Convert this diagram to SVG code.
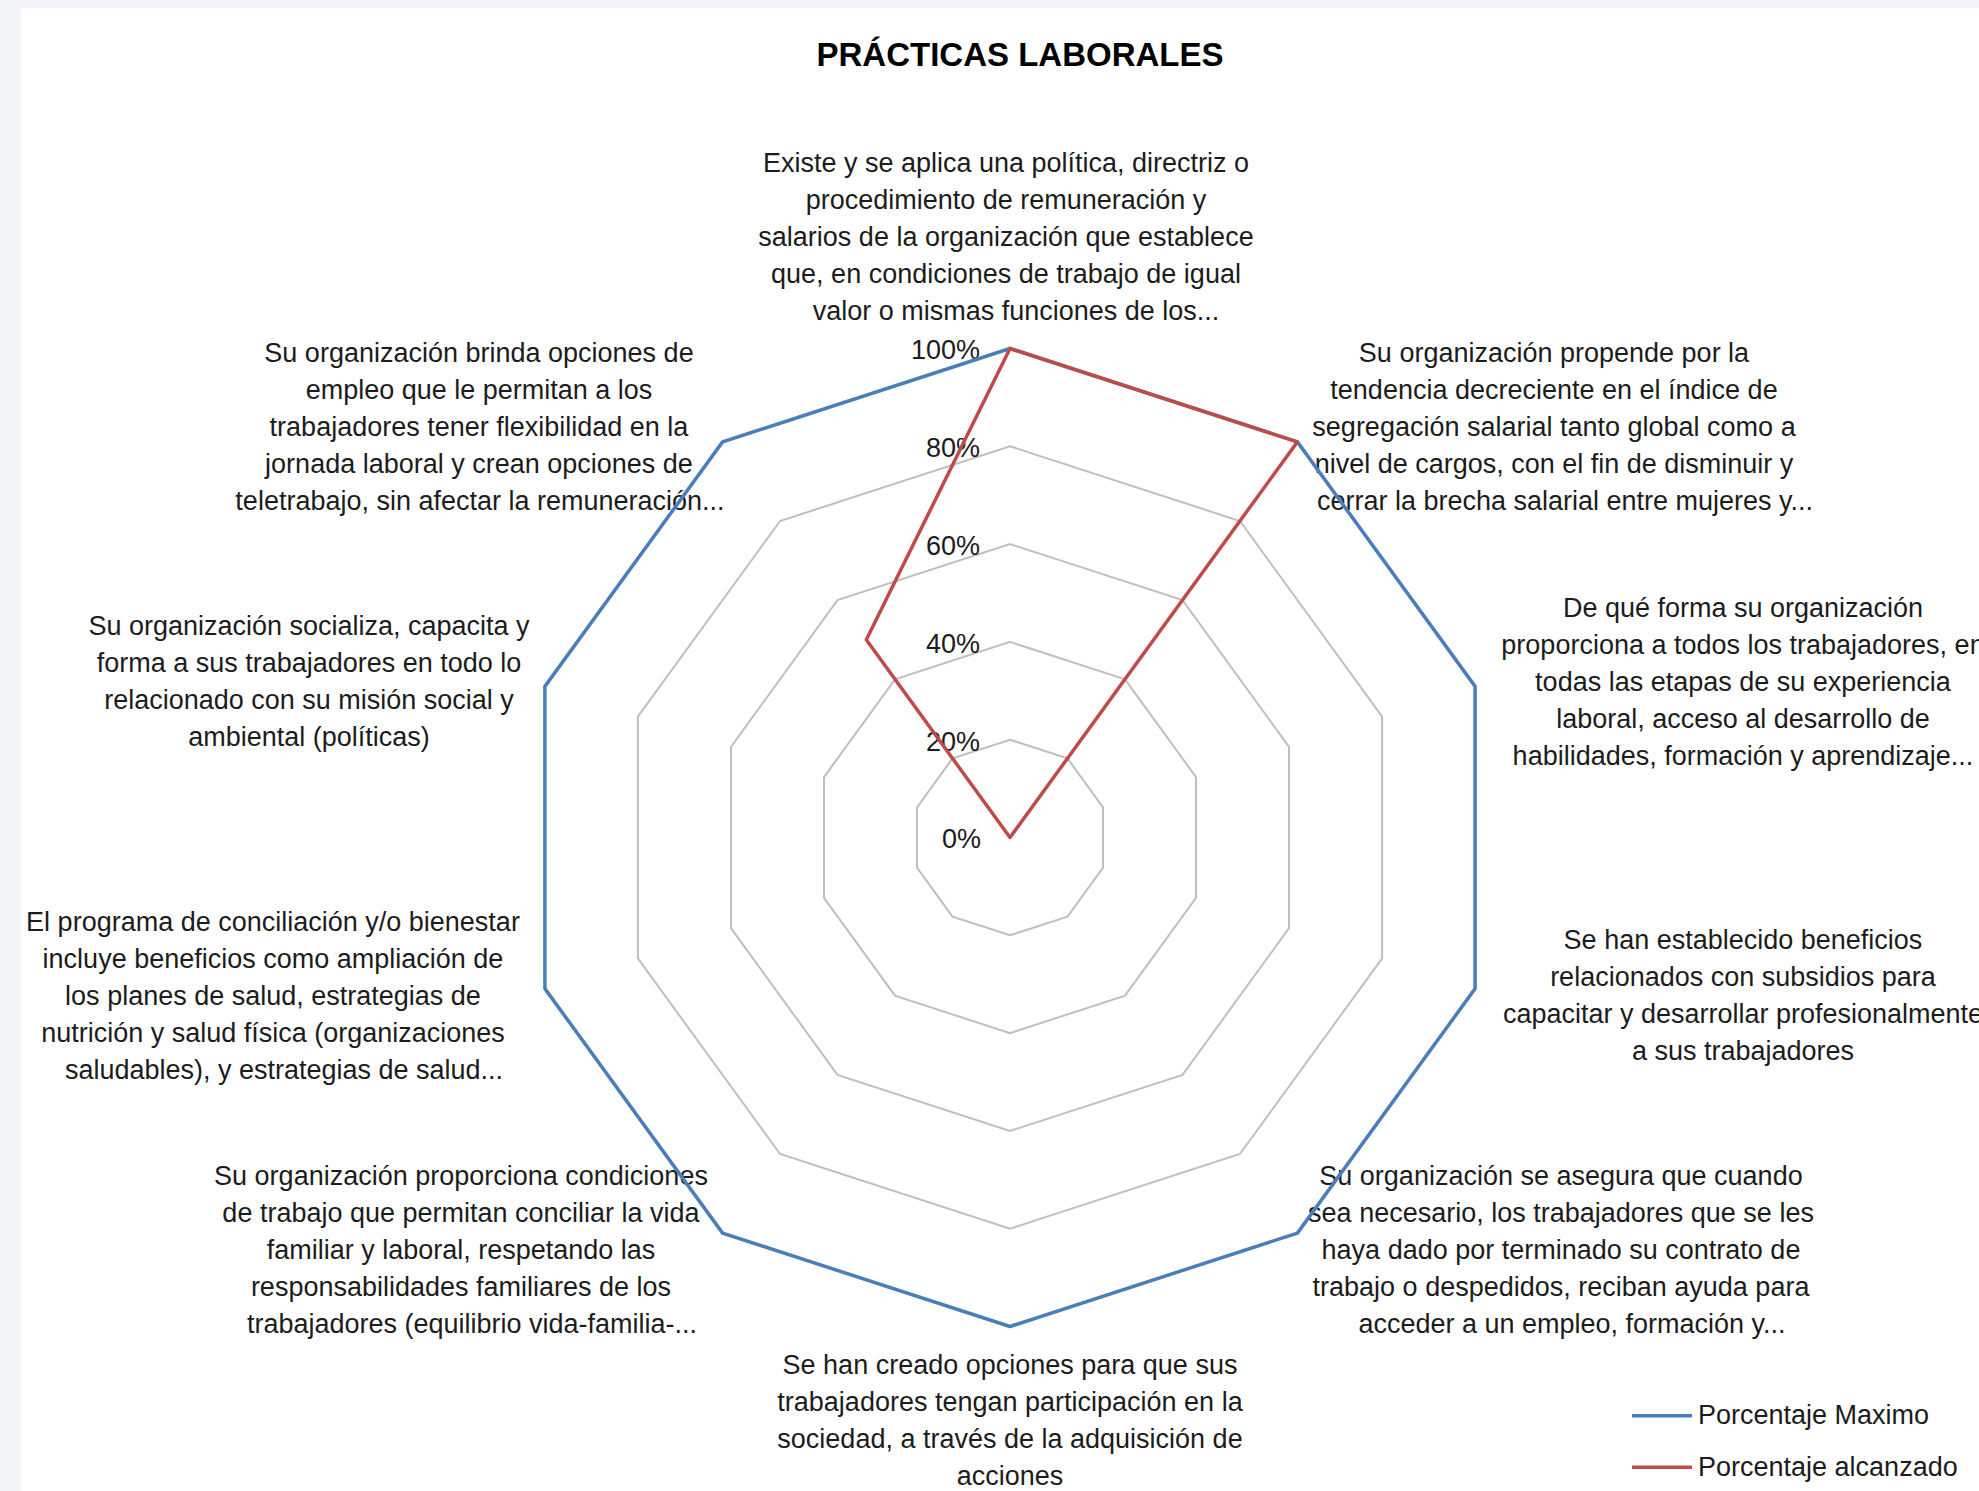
<svg xmlns="http://www.w3.org/2000/svg" width="1979" height="1491" viewBox="0 0 1979 1491">
<style>
.t{font-family:"Liberation Sans",Arial,sans-serif;font-size:27px;fill:#1c1c1c;text-anchor:middle}
.tick{font-family:"Liberation Sans",Arial,sans-serif;font-size:27px;fill:#1c1c1c;text-anchor:end}
.leg{font-family:"Liberation Sans",Arial,sans-serif;font-size:27px;fill:#1c1c1c}
.title{font-family:"Liberation Sans",Arial,sans-serif;font-size:33px;font-weight:bold;fill:#000;text-anchor:middle}
.ring{fill:none;stroke:#bfbfbf;stroke-width:2}
.max{fill:none;stroke:#4A7EBB;stroke-width:3.5;stroke-linejoin:round}
.got{fill:none;stroke:#BE4B48;stroke-width:3.5;stroke-linejoin:round}
</style>
<rect id="bg" x="0" y="0" width="1979" height="1491" fill="#f3f5f8"/>
<rect id="chartarea" x="21" y="8" width="1958" height="1483" fill="#ffffff"/>
<g id="title"><text class="title" x="1020" y="66">PRÁCTICAS LABORALES</text></g>
<g id="grid">
<polygon class="ring" points="1010,739.7 1067.5,758.4 1103,807.3 1103,867.7 1067.5,916.6 1010,935.3 952.5,916.6 917,867.7 917,807.3 952.5,758.4"/>
<polygon class="ring" points="1010,641.9 1125,679.3 1196,777.1 1196,897.9 1125,995.7 1010,1033.1 895,995.7 824,897.9 824,777.1 895,679.3"/>
<polygon class="ring" points="1010,544.1 1182.5,600.1 1289,746.8 1289,928.2 1182.5,1074.9 1010,1130.9 837.5,1074.9 731,928.2 731,746.8 837.5,600.1"/>
<polygon class="ring" points="1010,446.3 1239.9,521 1382.1,716.6 1382.1,958.4 1239.9,1154 1010,1228.7 780.1,1154 637.9,958.4 637.9,716.6 780.1,521"/>
</g>
<g id="ticks">
<text class="tick" x="980" y="359">100%</text>
<text class="tick" x="980" y="457">80%</text>
<text class="tick" x="980" y="555">60%</text>
<text class="tick" x="980" y="653">40%</text>
<text class="tick" x="980" y="751">20%</text>
<text class="tick" x="981" y="848">0%</text>
</g>
<g id="label0">
<text class="t" x="1006" y="172">Existe y se aplica una política, directriz o</text>
<text class="t" x="1006" y="209">procedimiento de remuneración y</text>
<text class="t" x="1006" y="246">salarios de la organización que establece</text>
<text class="t" x="1006" y="283">que, en condiciones de trabajo de igual</text>
<text class="t" x="1016" y="320">valor o mismas funciones de los...</text>
</g>
<g id="label1">
<text class="t" x="1554" y="362">Su organización propende por la</text>
<text class="t" x="1554" y="399">tendencia decreciente en el índice de</text>
<text class="t" x="1554" y="436">segregación salarial tanto global como a</text>
<text class="t" x="1554" y="473">nivel de cargos, con el fin de disminuir y</text>
<text class="t" x="1565" y="510">cerrar la brecha salarial entre mujeres y...</text>
</g>
<g id="label2">
<text class="t" x="1743" y="617">De qué forma su organización</text>
<text class="t" x="1743" y="654">proporciona a todos los trabajadores, en</text>
<text class="t" x="1743" y="691">todas las etapas de su experiencia</text>
<text class="t" x="1743" y="728">laboral, acceso al desarrollo de</text>
<text class="t" x="1743" y="765">habilidades, formación y aprendizaje...</text>
</g>
<g id="label3">
<text class="t" x="1743" y="949">Se han establecido beneficios</text>
<text class="t" x="1743" y="986">relacionados con subsidios para</text>
<text class="t" x="1743" y="1023">capacitar y desarrollar profesionalmente</text>
<text class="t" x="1743" y="1060">a sus trabajadores</text>
</g>
<g id="label4">
<text class="t" x="1561" y="1185">Su organización se asegura que cuando</text>
<text class="t" x="1561" y="1222">sea necesario, los trabajadores que se les</text>
<text class="t" x="1561" y="1259">haya dado por terminado su contrato de</text>
<text class="t" x="1561" y="1296">trabajo o despedidos, reciban ayuda para</text>
<text class="t" x="1572" y="1333">acceder a un empleo, formación y...</text>
</g>
<g id="label5">
<text class="t" x="1010" y="1374">Se han creado opciones para que sus</text>
<text class="t" x="1010" y="1411">trabajadores tengan participación en la</text>
<text class="t" x="1010" y="1448">sociedad, a través de la adquisición de</text>
<text class="t" x="1010" y="1485">acciones</text>
</g>
<g id="label6">
<text class="t" x="461" y="1185">Su organización proporciona condiciones</text>
<text class="t" x="461" y="1222">de trabajo que permitan conciliar la vida</text>
<text class="t" x="461" y="1259">familiar y laboral, respetando las</text>
<text class="t" x="461" y="1296">responsabilidades familiares de los</text>
<text class="t" x="472" y="1333">trabajadores (equilibrio vida-familia-...</text>
</g>
<g id="label7">
<text class="t" x="273" y="931">El programa de conciliación y/o bienestar</text>
<text class="t" x="273" y="968">incluye beneficios como ampliación de</text>
<text class="t" x="273" y="1005">los planes de salud, estrategias de</text>
<text class="t" x="273" y="1042">nutrición y salud física (organizaciones</text>
<text class="t" x="284" y="1079">saludables), y estrategias de salud...</text>
</g>
<g id="label8">
<text class="t" x="309" y="635">Su organización socializa, capacita y</text>
<text class="t" x="309" y="672">forma a sus trabajadores en todo lo</text>
<text class="t" x="309" y="709">relacionado con su misión social y</text>
<text class="t" x="309" y="746">ambiental (políticas)</text>
</g>
<g id="label9">
<text class="t" x="479" y="362">Su organización brinda opciones de</text>
<text class="t" x="479" y="399">empleo que le permitan a los</text>
<text class="t" x="479" y="436">trabajadores tener flexibilidad en la</text>
<text class="t" x="479" y="473">jornada laboral y crean opciones de</text>
<text class="t" x="480" y="510">teletrabajo, sin afectar la remuneración...</text>
</g>
<g id="series">
<polygon id="serie-maximo" class="max" points="1010,348.5 1297.4,441.9 1475.1,686.4 1475.1,988.6 1297.4,1233.1 1010,1326.5 722.6,1233.1 544.9,988.6 544.9,686.4 722.6,441.9"/>
<polygon id="serie-alcanzado" class="got" points="1010,348.5 1297.4,441.9 1010,837.5 1010,837.5 1010,837.5 1010,837.5 1010,837.5 1010,837.5 1010,837.5 866.3,639.7"/>
</g>
<g id="legend">
<line class="max" x1="1632" y1="1415.7" x2="1692" y2="1415.7"/>
<text class="leg" x="1698" y="1424">Porcentaje Maximo</text>
<line class="got" x1="1632" y1="1467.3" x2="1692" y2="1467.3"/>
<text class="leg" x="1698" y="1476">Porcentaje alcanzado</text>
</g>
</svg>
